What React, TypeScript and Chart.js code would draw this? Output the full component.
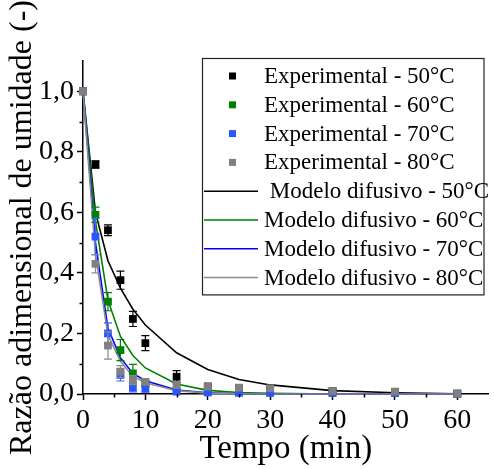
import React, { useEffect, useRef } from 'react';
import { Chart, registerables } from 'chart.js';

Chart.register(...registerables);

// ---- data ----
const times = [0, 2, 4, 6, 8, 10, 15, 20, 25, 30, 40, 50, 60];

const exp50 = [1.0, 0.758, 0.541, 0.376, 0.248, 0.168, 0.057, 0.025, 0.02, 0.018, 0.01, 0.007, 0.001];
const err50 = [0, 0.012, 0.018, 0.03, 0.025, 0.025, 0.02, 0, 0, 0, 0, 0, 0];
const exp60 = [1.0, 0.592, 0.305, 0.145, 0.068, 0.035, 0.01, 0.008, 0.006, 0.005, 0.004, 0.003, 0.001];
const err60 = [0, 0.025, 0.03, 0.035, 0.03, 0.01, 0, 0, 0, 0, 0, 0, 0];
const exp70 = [1.0, 0.52, 0.2, 0.063, 0.022, 0.018, 0.008, 0.005, 0.004, 0.004, 0.004, 0.003, 0.001];
const err70 = [0, 0.06, 0.035, 0.02, 0.015, 0.012, 0, 0, 0, 0, 0, 0, 0];
const exp80 = [1.0, 0.43, 0.16, 0.074, 0.046, 0.04, 0.03, 0.024, 0.021, 0.019, 0.01, 0.008, 0.001];
const err80 = [0, 0.03, 0.045, 0.02, 0.015, 0.01, 0.01, 0, 0, 0, 0, 0, 0];

const model50 = [1.0, 0.6, 0.44, 0.35, 0.28, 0.228, 0.136, 0.081, 0.048, 0.03, 0.011, 0.004, 0.001];
const model60 = [1.0, 0.57, 0.31, 0.19, 0.127, 0.086, 0.033, 0.012, 0.005, 0.002, 0.0, 0.0, 0.0];
const model70 = [1.0, 0.5, 0.217, 0.12, 0.068, 0.044, 0.013, 0.004, 0.001, 0.0, 0.0, 0.0, 0.0];
const model80 = [1.0, 0.46, 0.195, 0.108, 0.058, 0.037, 0.011, 0.003, 0.001, 0.0, 0.0, 0.0, 0.0];

const expLabels = ['Experimental - 50°C', 'Experimental - 60°C', 'Experimental - 70°C', 'Experimental - 80°C'];
const modelLabels = [' Modelo difusivo - 50°C', 'Modelo difusivo - 60°C', 'Modelo difusivo - 70°C', 'Modelo difusivo - 80°C'];

const xTicks = [0, 10, 20, 30, 40, 50, 60];
const xMinorTicks = [5, 15, 25, 35, 45, 55];
const yTicks = [0, 0.2, 0.4, 0.6, 0.8, 1.0];
const yMinorTicks = [0.1, 0.3, 0.5, 0.7, 0.9];

const xTitle = 'Tempo (min)';
const yTitle = 'Razão adimensional de umidade (-)';

// ---- styles ----
const FONT = "'Liberation Serif', 'Times New Roman', serif";
const pointColors = ['#000000', '#008000', '#2a55ff', '#808080'];
const errColors = ['#000000', '#008000', '#3a66ff', '#8a8a8a'];
const lineColors = ['#000000', '#008000', '#0000ff', '#8c8c8c'];

const toXY = (ys: number[]) => ys.map((y, i) => ({ x: times[i], y }));

const errorBarPlugin = {
  id: 'errorBars',
  beforeDatasetDraw(chart: any, args: any) {
    const ds = chart.data.datasets[args.index];
    if (!ds.errors) return;
    const ctx = chart.ctx;
    const xs = chart.scales.x;
    const ys = chart.scales.y;
    ctx.save();
    ctx.strokeStyle = ds.errorColor;
    ctx.lineWidth = 1.2;
    ds.data.forEach((p: any, i: number) => {
      const e = ds.errors[i];
      if (!e) return;
      const x = xs.getPixelForValue(p.x);
      const y1 = ys.getPixelForValue(p.y + e);
      const y2 = ys.getPixelForValue(p.y - e);
      ctx.beginPath();
      ctx.moveTo(x, y1);
      ctx.lineTo(x, y2);
      ctx.moveTo(x - 4, y1);
      ctx.lineTo(x + 4, y1);
      ctx.moveTo(x - 4, y2);
      ctx.lineTo(x + 4, y2);
      ctx.stroke();
    });
    ctx.restore();
  },
};

const minorTickPlugin = {
  id: 'minorTicks',
  afterDraw(chart: any) {
    const ctx = chart.ctx;
    const xs = chart.scales.x;
    const ys = chart.scales.y;
    const { left, bottom } = chart.chartArea;
    ctx.save();
    ctx.strokeStyle = '#000';
    ctx.lineWidth = 1.5;
    ctx.beginPath();
    xMinorTicks.forEach((v) => {
      const x = Math.round(xs.getPixelForValue(v)) + 0.5;
      ctx.moveTo(x, bottom);
      ctx.lineTo(x, bottom + 3.5);
    });
    yMinorTicks.forEach((v) => {
      const y = Math.round(ys.getPixelForValue(v)) + 0.5;
      ctx.moveTo(left, y);
      ctx.lineTo(left - 3.5, y);
    });
    ctx.stroke();
    ctx.restore();
  },
};

const boxLegendPlugin = {
  id: 'boxLegend',
  afterDraw(chart: any) {
    const ctx = chart.ctx;
    const { right, top } = chart.chartArea;
    const bx = 202;
    const by = top - 3;
    const bw = right - 5 - bx;
    const rowH = 28.8;
    const bh = rowH * 8 + 6;
    ctx.save();
    ctx.fillStyle = '#fff';
    ctx.fillRect(bx, by, bw, bh);
    ctx.strokeStyle = '#222';
    ctx.lineWidth = 1.2;
    ctx.strokeRect(bx + 0.5, by + 0.5, bw, bh);
    ctx.font = `23px ${FONT}`;
    ctx.textBaseline = 'middle';
    ctx.textAlign = 'left';
    const datasets = chart.data.datasets;
    datasets.forEach((ds: any, i: number) => {
      const cy = by + 18 + i * rowH;
      if (ds.showLine === false) {
        ctx.fillStyle = ds.pointBackgroundColor;
        ctx.fillRect(229, cy - 3.5, 7, 7);
      } else {
        ctx.strokeStyle = ds.borderColor;
        ctx.lineWidth = 1.5;
        ctx.beginPath();
        ctx.moveTo(204, cy);
        ctx.lineTo(258, cy);
        ctx.stroke();
      }
      ctx.fillStyle = '#000';
      ctx.fillText(ds.label, 264, cy + 1);
    });
    ctx.restore();
  },
};

export default function App() {
  const ref = useRef<HTMLCanvasElement | null>(null);

  useEffect(() => {
    if (!ref.current) return;
    const exps = [exp50, exp60, exp70, exp80];
    const errs = [err50, err60, err70, err80];
    const models = [model50, model60, model70, model80];

    const expDatasets = exps.map((d, i) => ({
      label: expLabels[i],
      data: toXY(d),
      errors: errs[i],
      errorColor: errColors[i],
      showLine: false,
      pointStyle: 'rect',
      pointRadius: 5.5,
      pointBorderWidth: 0,
      pointBackgroundColor: pointColors[i],
      pointBorderColor: pointColors[i],
      borderColor: pointColors[i],
      backgroundColor: pointColors[i],
      clip: false,
      order: 4 - i,
    }));
    const modelDatasets = models.map((d, i) => ({
      label: modelLabels[i],
      data: toXY(d),
      showLine: true,
      pointRadius: 0,
      borderWidth: 1.6,
      borderColor: lineColors[i],
      backgroundColor: lineColors[i],
      tension: 0,
      clip: false,
      order: 10 - i,
    }));

    const chart = new Chart(ref.current, {
      type: 'line',
      data: { datasets: [...expDatasets, ...modelDatasets] as any },
      options: {
        animation: false,
        responsive: false,
        layout: { padding: { top: 61, right: 0, left: 0, bottom: 0 } },
        plugins: { legend: { display: false }, tooltip: { enabled: false } },
        scales: {
          x: {
            type: 'linear',
            min: 0,
            max: 65,
            afterBuildTicks: (s: any) => {
              s.ticks = xTicks.map((v) => ({ value: v }));
            },
            afterFit: (s: any) => {
              s.height = 75;
            },
            ticks: {
              font: { family: FONT, size: 28 },
              color: '#000',
              padding: 4,
              maxRotation: 0,
              autoSkip: false,
              callback: (v: any) => String(v),
            },
            grid: { drawOnChartArea: false, drawTicks: true, tickLength: 6, tickColor: '#000', tickWidth: 1.5 },
            border: { display: true, color: '#000', width: 1.5 },
            title: { display: true, text: xTitle, font: { family: FONT, size: 33 }, color: '#000', padding: { top: 0, bottom: 0 } },
          },
          y: {
            type: 'linear',
            min: 0,
            max: 1.1,
            afterBuildTicks: (s: any) => {
              s.ticks = yTicks.map((v) => ({ value: v }));
            },
            afterFit: (s: any) => {
              s.width = 83;
            },
            ticks: {
              font: { family: FONT, size: 28 },
              color: '#000',
              padding: 3,
              autoSkip: false,
              callback: (v: any) => Number(v).toFixed(1).replace('.', ','),
            },
            grid: { drawOnChartArea: false, drawTicks: true, tickLength: 6, tickColor: '#000', tickWidth: 1.5 },
            border: { display: true, color: '#000', width: 1.5 },
            title: { display: true, text: yTitle, font: { family: FONT, size: 32 }, color: '#000', padding: { top: 3, bottom: 0 } },
          },
        },
      } as any,
      plugins: [errorBarPlugin, minorTickPlugin, boxLegendPlugin],
    });
    return () => chart.destroy();
  }, []);

  return (
    <div style={{ position: 'fixed', left: 0, top: 0, width: 494, height: 469, background: '#fff' }}>
      <canvas ref={ref} width={494} height={469} />
    </div>
  );
}
